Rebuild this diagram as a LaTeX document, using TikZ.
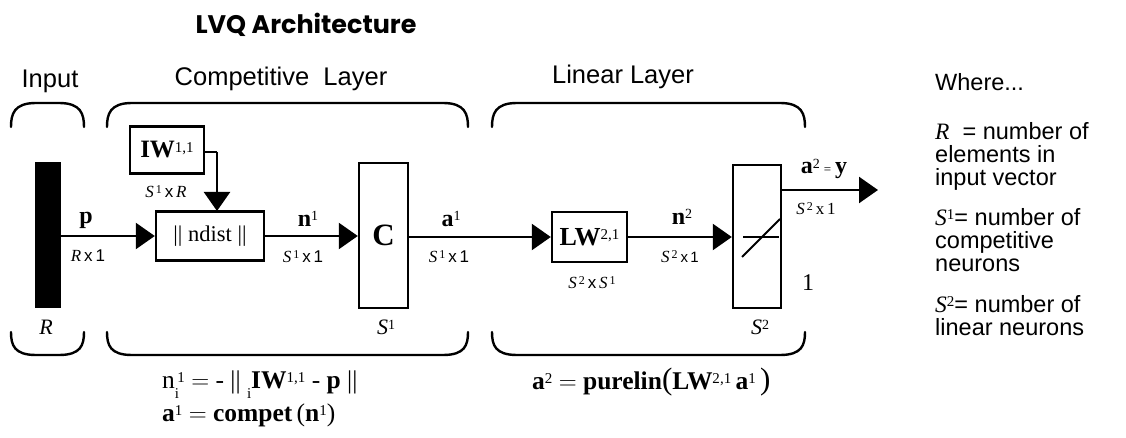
\documentclass[tikz,border=0pt]{standalone}
\usepackage{fontspec}
\setmainfont{Liberation Serif}
\newfontfamily\hv{Liberation Sans}
\newfontfamily\pop{Poppins}
\usetikzlibrary{arrows.meta}
\newcommand\fs[1]{\fontsize{#1}{#1}\selectfont}
\newcommand\sps[2][11]{\raisebox{0.5ex}{\fs{#1}#2}}
\tikzset{
  box/.style={draw, line width=2.4pt},
  conn/.style={line width=2.4pt},
  arr/.style={conn, -{Triangle[length=19pt,width=26pt]}},
  brace/.style={line width=2.4pt, line cap=round},
  lbl/.style={inner sep=0pt},
  hd/.style={inner sep=0pt, font=\hv\fs{25.5}},
  wtxt/.style={inner sep=0pt, anchor=north west, align=left, font=\hv\fontsize{23.5}{23}\selectfont},
}
\begin{document}
\begin{tikzpicture}[x=1pt,y=-1pt]
\useasboundingbox (0,0) rectangle (1126,438);
% title and headings
\node[lbl, font=\pop\bfseries\fs{25.4}] (title) at (306,25) {LVQ Architecture};
\node[hd] (hin) at (50,81) {Input};
\node[hd] (hcomp) at (281,79) {Competitive\ \ Layer};
\node[hd] (hlin) at (623,77) {Linear Layer};
% braces top
\draw[brace] (11,127) .. controls (11,114) and (14,103) .. (36,103) -- (59,103) .. controls (81,103) and (84,114) .. (84,127);
\draw[brace] (107,127) .. controls (107,114) and (110,103) .. (132,103) -- (443,103) .. controls (465,103) and (468,114) .. (468,127);
\draw[brace] (492,127) .. controls (492,114) and (495,103) .. (517,103) -- (780,103) .. controls (802,103) and (805,114) .. (805,127);
% braces bottom
\draw[brace] (11,332) .. controls (11,345) and (14,355) .. (36,355) -- (59,355) .. controls (81,355) and (84,345) .. (84,332);
\draw[brace] (107,332) .. controls (107,345) and (110,355) .. (132,355) -- (443,355) .. controls (465,355) and (468,345) .. (468,332);
\draw[brace] (492,332) .. controls (492,345) and (495,355) .. (517,355) -- (780,355) .. controls (802,355) and (805,345) .. (805,332);
% input bar
\node[fill=black, minimum width=26pt, minimum height=146pt, inner sep=0pt] (bar) at (48,235) {};
\node[lbl] (R) at (46,327) {\fs{22}\itshape R};
% IW box
\node[box, minimum width=74pt, minimum height=47pt, inner sep=0pt] (iw) at (167,150) {\fs{25}\bfseries IW\sps[15]{\mdseries 1,1}};
\node[lbl] (iwd) at (166,192) {\fs{17}\itshape S\sps[12]{\upshape\,1}\,{\hv\upshape x}\,R};
% ndist box
\node[box, minimum width=108pt, minimum height=49pt, inner sep=0pt] (nd) at (210,236) {\fs{22.5}|| ndist ||};
\coordinate (iwc) at (217,152);
\draw[conn] (iw.east |- iwc) -- (iwc);
\draw[arr] (iwc) -- (217,211);
% C box
\node[box, minimum width=49pt, minimum height=145pt, inner sep=0pt] (C) at (383.5,235.5) {\fs{31}\bfseries C};
\node[lbl] (S1) at (386,327) {\fs{22}\itshape S\sps[14]{\upshape 1}};
% LW box
\node[box, minimum width=75pt, minimum height=50pt, inner sep=0pt] (lw) at (589.5,237) {\fs{26}\bfseries LW\sps[15]{\mdseries 2,1}};
\node[lbl] (lwd) at (592,283) {\fs{17}\itshape S\sps[12]{\upshape\,2}\,{\hv\upshape x}\,S\sps[12]{\upshape\,1}};
% linear box
\node[box, minimum width=48pt, minimum height=143pt, inner sep=0pt] (lin) at (757,236.5) {};
\draw[line width=1.6pt] (743,237) -- (779,237);
\draw[line width=1.8pt] (742,257) -- (780,219);
\node[lbl] (S2) at (760,327) {\fs{22}\itshape S\sps[14]{\upshape 2}};
\node[lbl] (one) at (808,283) {\fs{24}1};
% connectors
\draw[arr] (bar.east |- 0,236) -- (nd.west |- 0,236);
\draw[arr] (nd.east |- 0,236) -- (C.west |- 0,236);
\draw[arr] (C.east |- 0,237) -- (lw.west |- 0,237);
\draw[arr] (lw.east |- 0,237) -- (lin.west |- 0,237);
\coordinate (out) at (878,190);
\draw[arr] (lin.east |- out) -- (out);
% connector labels
\node[lbl] (lp) at (86,220) {\fs{24}\bfseries p};
\node[lbl] (lpd) at (88,256) {\fs{17}\itshape R\,{\hv\upshape x\,1}};
\node[lbl] (ln1) at (308,219) {\fs{24}\bfseries n\sps[14]{\mdseries 1}};
\node[lbl] (ln1d) at (303,257) {\fs{17}\itshape S\sps[12]{\upshape\,1}\,{\hv\upshape x\,1}};
\node[lbl] (la1) at (451,219) {\fs{24}\bfseries a\sps[14]{\mdseries 1}};
\node[lbl] (la1d) at (449,257) {\fs{17}\itshape S\sps[12]{\upshape\,1}\,{\hv\upshape x\,1}};
\node[lbl] (ln2) at (682,217) {\fs{24}\bfseries n\sps[14]{\mdseries 2}};
\node[lbl] (ln2d) at (680,257) {\fs{17}\itshape S\sps[12]{\upshape\,2}\,{\hv\upshape\fs{15}x\,1}};
\node[lbl] (la2) at (824,169) {\fs{24}\bfseries a\sps[14]{\mdseries 2}\,{\mdseries\fs{13}=}\,y};
\node[lbl] (la2d) at (816,209) {\fs{17}\itshape S\sps[12]{\upshape\,2}\,{\upshape x\,1}};
% equations
\node[lbl, anchor=base west] (eq1) at (162,388) {\fs{25.5}n\makebox[0pt][l]{\raisebox{-10pt}{\fs{15}i}}\sps[15]{\,1} $=$ - || \raisebox{-10pt}{\fs{15}i}\textbf{IW}\sps[15]{1,1} - \textbf{p} ||};
\node[lbl, anchor=base west] (eq2) at (162,421) {\fs{25.5}\textbf{a}\sps[15]{1} $=$ \textbf{compet}\,(\textbf{n}\sps[15]{1})};
\node[lbl, anchor=base west] (eq3) at (532,389) {\fs{25.5}\textbf{a}\sps[15]{2} $=$ \textbf{purelin}{\fs{31}(}\textbf{LW}\sps[15]{2,1}\,\textbf{a}\sps[15]{1}\,{\fs{31})}};
% where text
\node[wtxt] (w0) at (935,73) {Where...};
\node[wtxt] (w1) at (935,122) {{\rmfamily\itshape R}\ \ = number of\\elements in\\input vector};
\node[wtxt] (w4) at (935,208) {{\rmfamily\itshape S}\sps[15]{\rmfamily 1}= number of\\competitive\\neurons};
\node[wtxt] (w7) at (935,295) {{\rmfamily\itshape S}\sps[15]{\rmfamily 2}= number of\\linear neurons};
\end{tikzpicture}
\end{document}
